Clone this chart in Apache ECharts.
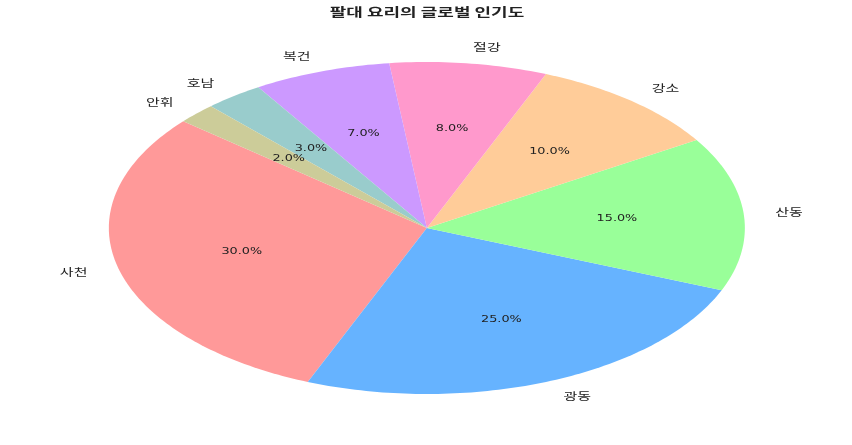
<!DOCTYPE html>
<html>
<head>
<meta charset="utf-8">
<script src="https://cdn.jsdelivr.net/npm/echarts@6/dist/echarts.min.js"></script>
<style>
  html, body { margin: 0; padding: 0; background: #fff; }
  #chart { width: 852px; height: 445px; }
</style>
</head>
<body>
<div id="chart"></div>
<script>
// 데이터
const cuisines = ['사천', '광동', '산동', '강소', '절강', '복건', '호남', '안휘']
const shares = [30, 25, 15, 10, 8, 7, 3, 2]
const sliceColors = ['#ff9999', '#66b3ff', '#99ff99', '#ffcc99', '#ff99cc', '#cc99ff', '#99cccc', '#cccc99']

const startAngle = 140 // degrees, counterclockwise like matplotlib
const total = shares.reduce((a, b) => a + b, 0)
const FONT = '"Noto Sans CJK KR", "Noto Sans", sans-serif'
const NUM_FONT = '"DejaVu Sans", "Noto Sans", sans-serif'
const STRETCH = 1.5 // the source picture is stretched sideways

// cumulative start angle of each slice
const starts = []
let acc = startAngle
shares.forEach(v => {
  starts.push(acc)
  acc += v / total * 360
})

const chart = echarts.init(document.getElementById('chart'))

function renderSlice(params, api) {
  const i = params.dataIndex
  const W = api.getWidth()
  const cx = W * 0.501
  const cy = 228
  const rx = 318
  const ry = 166
  const a0 = starts[i]
  const a1 = a0 + shares[i] / total * 360
  const pt = (deg, r) => {
    const t = deg * Math.PI / 180
    return [cx + r * rx * Math.cos(t), cy - r * ry * Math.sin(t)]
  }
  const pts = [[cx, cy]]
  const steps = Math.max(8, Math.ceil(a1 - a0))
  for (let k = 0; k <= steps; k++) {
    pts.push(pt(a0 + (a1 - a0) * k / steps, 1))
  }
  const mid = (a0 + a1) / 2
  const lp = pt(mid, 1.1)
  const pp = pt(mid, 0.6)
  const goRight = Math.cos(mid * Math.PI / 180) >= 0
  return {
    type: 'group',
    children: [
      {
        type: 'polygon',
        shape: { points: pts },
        style: { fill: sliceColors[i], stroke: null }
      },
      {
        type: 'text',
        x: lp[0],
        y: lp[1],
        scaleX: STRETCH,
        style: {
          text: cuisines[i],
          fill: '#222',
          font: '10px ' + FONT,
          align: goRight ? 'left' : 'right',
          verticalAlign: 'middle'
        }
      },
      {
        type: 'text',
        x: pp[0],
        y: pp[1],
        scaleX: 1.6,
        style: {
          text: (shares[i] / total * 100).toFixed(1) + '%',
          fill: '#222',
          font: '8px ' + NUM_FONT,
          align: 'center',
          verticalAlign: 'middle'
        }
      }
    ]
  }
}

chart.setOption({
  animation: false,
  graphic: [{
    type: 'text',
    x: 427,
    y: 12,
    scaleX: STRETCH,
    style: {
      text: '팔대 요리의 글로벌 인기도',
      font: 'bold 12px ' + FONT,
      fill: '#222',
      align: 'center',
      verticalAlign: 'middle'
    }
  }],
  series: [{
    type: 'custom',
    coordinateSystem: 'none',
    renderItem: renderSlice,
    data: shares.map((v, i) => [i, v])
  }]
})
</script>
</body>
</html>
